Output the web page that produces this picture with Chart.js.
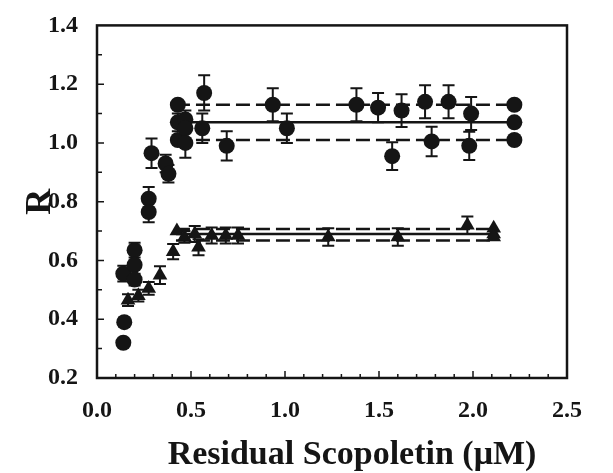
<!DOCTYPE html>
<html><head><meta charset="utf-8">
<script src="https://cdn.jsdelivr.net/npm/chart.js@4/dist/chart.umd.min.js"></script>
<style>html,body{margin:0;padding:0;background:#fff}</style>
</head><body>
<canvas id="c" width="613" height="473"></canvas>
<script>
// Circles series (x, R, error)
const circleX   = [0.14, 0.145, 0.14, 0.20, 0.20, 0.20, 0.275, 0.275, 0.29, 0.365, 0.38, 0.43, 0.43, 0.43, 0.47, 0.47, 0.47, 0.57, 0.56, 0.69, 0.935, 1.01, 1.38, 1.495, 1.57, 1.62, 1.745, 1.78, 1.87, 1.99, 1.98, 2.22, 2.22, 2.22];
const circleY   = [0.32, 0.39, 0.555, 0.635, 0.585, 0.535, 0.81, 0.765, 0.965, 0.93, 0.895, 1.13, 1.07, 1.01, 1.08, 1.05, 1.00, 1.17, 1.05, 0.99, 1.13, 1.05, 1.13, 1.12, 0.955, 1.11, 1.14, 1.005, 1.14, 1.10, 0.99, 1.13, 1.07, 1.01];
const circleErr = [0, 0.015, 0.027, 0.025, 0, 0.02, 0.04, 0.035, 0.05, 0.03, 0.03, 0, 0.03, 0, 0, 0.06, 0.05, 0.06, 0.05, 0.05, 0.056, 0.05, 0.056, 0.05, 0.047, 0.056, 0.056, 0.05, 0.056, 0.056, 0.048, 0, 0, 0];
// Triangles series
const triX   = [0.165, 0.22, 0.275, 0.335, 0.405, 0.425, 0.465, 0.52, 0.54, 0.61, 0.685, 0.75, 1.23, 1.6, 1.97, 2.11, 2.11, 2.11];
const triY   = [0.465, 0.48, 0.505, 0.55, 0.63, 0.70, 0.68, 0.69, 0.645, 0.685, 0.685, 0.685, 0.68, 0.68, 0.72, 0.71, 0.69, 0.68];
const triErr = [0.02, 0.02, 0.022, 0.03, 0.026, 0, 0.02, 0.027, 0.027, 0.027, 0.027, 0.027, 0.03, 0.03, 0.03, 0, 0, 0];
// Mean and +/- lines
const circleFitX = [0.42, 2.22];
const circleFit  = [1.07, 1.13, 1.01]; // mean, upper, lower
const triFitX    = [0.42, 2.11];
const triFit     = [0.69, 0.707, 0.668];
// Axes
const xTicks = [0, 0.5, 1.0, 1.5, 2.0, 2.5];
const yTicks = [0.2, 0.4, 0.6, 0.8, 1.0, 1.2, 1.4];
const xTitle = 'Residual Scopoletin (\u03BCM)';
const yTitle = 'R';

const INK = '#151515';
const SERIF = '"Liberation Serif", "Times New Roman", serif';
const pts = (xs, ys) => xs.map((v, i) => ({x: v, y: ys[i]}));
const hline = (xs, v) => xs.map(x => ({x: x, y: v}));

function lineDs(xs, v, dashed) {
  return {type: 'line', data: hline(xs, v), borderColor: INK, borderWidth: 2.5,
    borderDash: dashed ? [14, 6] : [], pointRadius: 0, fill: false, order: 2, showLine: true};
}

const errorBars = {
  id: 'errorBars',
  beforeDatasetsDraw(chart) {
    const {ctx, scales: {x, y}} = chart;
    ctx.save(); ctx.strokeStyle = INK; ctx.lineWidth = 2;
    chart.data.datasets.forEach(ds => {
      if (!ds.errors) return;
      ds.data.forEach((p, i) => {
        const e = ds.errors[i]; if (!e) return;
        const px = x.getPixelForValue(p.x), t = y.getPixelForValue(p.y + e), b = y.getPixelForValue(p.y - e);
        ctx.beginPath();
        ctx.moveTo(px, t); ctx.lineTo(px, b);
        ctx.moveTo(px - 6, t); ctx.lineTo(px + 6, t);
        ctx.moveTo(px - 6, b); ctx.lineTo(px + 6, b);
        ctx.stroke();
      });
    });
    ctx.restore();
  }
};

const frame = {
  id: 'frame',
  afterDraw(chart) {
    const {ctx, chartArea: a, scales: {x, y}} = chart;
    ctx.save(); ctx.strokeStyle = INK; ctx.lineWidth = 2.5;
    ctx.strokeRect(a.left, a.top, a.right - a.left, a.bottom - a.top);
    ctx.lineWidth = 1.5;
    ctx.beginPath();
    for (let i = 1; i < 25; i++) {
      const v = i / 10, px = x.getPixelForValue(v), len = (i % 5 === 0) ? 7 : 4;
      ctx.moveTo(px, a.bottom); ctx.lineTo(px, a.bottom - len);
    }
    for (let i = 3; i < 14; i++) {
      const v = i / 10, py = y.getPixelForValue(v), len = (i % 2 === 0) ? 7 : 5;
      ctx.moveTo(a.left, py); ctx.lineTo(a.left + len, py);
    }
    ctx.stroke();
    // x-axis title (offset right of axis centre as in the reference)
    ctx.fillStyle = INK;
    ctx.font = 'bold 34px ' + SERIF;
    ctx.textAlign = 'center'; ctx.textBaseline = 'middle';
    ctx.fillText(xTitle, (a.left + a.right) / 2 + 20, 455);
    ctx.restore();
  }
};

const tickFont = {family: SERIF, size: 24, weight: 'bold'};

new Chart(document.getElementById('c'), {
  type: 'scatter',
  data: {
    datasets: [
      {label: 'circles', data: pts(circleX, circleY), errors: circleErr, pointStyle: 'circle', pointRadius: 8,
        backgroundColor: INK, borderColor: INK, borderWidth: 0, order: 0},
      {label: 'triangles', data: pts(triX, triY), errors: triErr, pointStyle: 'triangle', pointRadius: 8.5,
        backgroundColor: INK, borderColor: INK, borderWidth: 0, order: 0},
      lineDs(circleFitX, circleFit[0], false),
      lineDs(circleFitX, circleFit[1], true),
      lineDs(circleFitX, circleFit[2], true),
      lineDs(triFitX, triFit[0], false),
      lineDs(triFitX, triFit[1], true),
      lineDs(triFitX, triFit[2], true)
    ]
  },
  options: {
    responsive: false, animation: false, devicePixelRatio: 1,
    layout: {padding: {top: 23, right: 46, left: 0, bottom: 0}},
    plugins: {legend: {display: false}, tooltip: {enabled: false}},
    scales: {
      x: {type: 'linear', min: 0, max: 2.5,
        afterBuildTicks: s => { s.ticks = xTicks.map(v => ({value: v})); },
        afterFit: s => { s.height = 95; },
        grid: {display: false}, border: {display: false},
        ticks: {font: tickFont, color: INK, padding: 10, callback: v => v.toFixed(1), maxRotation: 0},
        title: {display: false}
      },
      y: {type: 'linear', min: 0.2, max: 1.4,
        afterBuildTicks: s => { s.ticks = yTicks.map(v => ({value: v})); },
        afterFit: s => { s.width = 97; },
        grid: {display: false}, border: {display: false},
        ticks: {font: tickFont, color: INK, padding: 11, callback: v => v.toFixed(1)},
        title: {display: true, text: yTitle, color: INK, padding: {top: 19, bottom: 0},
          font: {family: SERIF, size: 36, weight: 'bold'}}
      }
    }
  },
  plugins: [errorBars, frame]
});
</script>
</body></html>
